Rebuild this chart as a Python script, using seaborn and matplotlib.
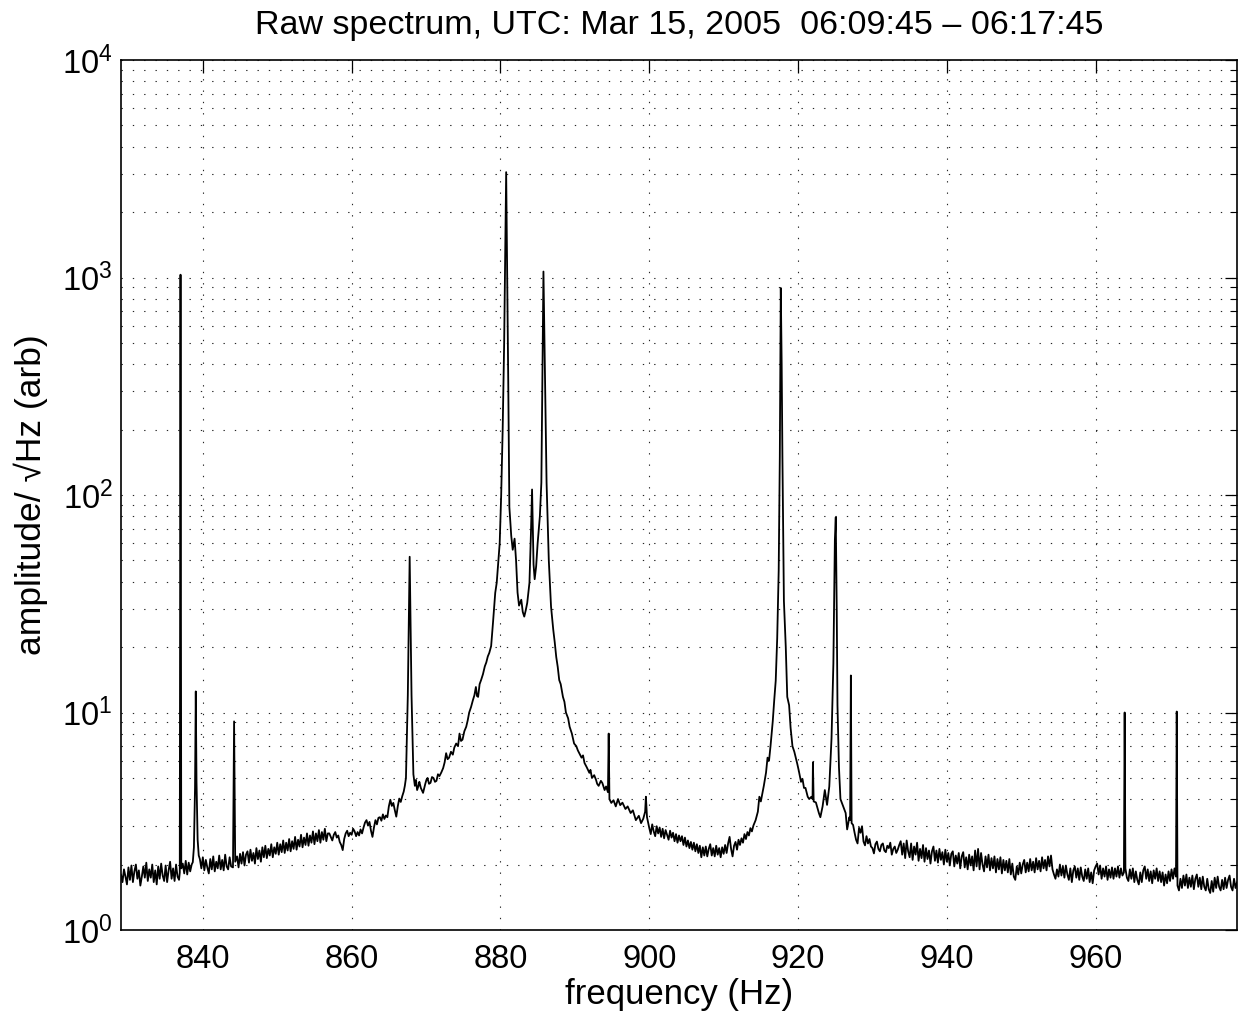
import numpy as np
import pandas as pd
import seaborn as sns
import matplotlib
matplotlib.use("Agg")
import matplotlib.pyplot as plt
from matplotlib.ticker import LogLocator, NullFormatter, FixedLocator

# ---------------- data ----------------
freq_a = [829.0, 829.2, 829.4, 829.6, 829.8, 830.0, 830.2, 830.4, 830.6, 830.8,
          831.0, 831.2, 831.4, 831.6, 831.8, 832.0, 832.2, 832.4, 832.6, 832.8,
          833.0, 833.2, 833.4, 833.6, 833.8, 834.0, 834.2, 834.4, 834.6, 834.8,
          835.0, 835.2, 835.4, 835.6, 835.8, 836.0, 836.2, 836.4, 836.6, 836.8,
          836.9, 837.0, 837.1, 837.3, 837.5, 837.7, 837.9, 838.1, 838.3, 838.5,
          838.65, 838.8, 838.95, 839.05, 839.15, 839.3, 839.45, 839.6, 839.8, 840.0,
          840.2, 840.4, 840.6, 840.8, 841.0, 841.2, 841.4, 841.6, 841.8, 842.0,
          842.2, 842.4, 842.6, 842.8, 843.0, 843.2, 843.4, 843.6, 843.8, 844.05,
          844.2, 844.35, 844.6, 844.8, 845.0, 845.2, 845.4, 845.6, 845.8, 846.0,
          846.2, 846.4, 846.6, 846.8, 847.0, 847.2, 847.4, 847.6, 847.8, 848.0,
          848.2, 848.4, 848.6, 848.8, 849.0, 849.2, 849.4, 849.6, 849.8, 850.0,
          850.2, 850.4, 850.6, 850.8, 851.0, 851.2, 851.4, 851.6, 851.8, 852.0,
          852.2, 852.4, 852.6, 852.8, 853.0, 853.2, 853.4, 853.6, 853.8, 854.0,
          854.2, 854.4, 854.6, 854.8, 855.0, 855.2, 855.4, 855.6, 855.8, 856.0,
          856.2, 856.4, 856.6, 856.8]
amp_a = [1.80, 1.66, 1.90, 1.76, 1.62, 1.94, 1.70, 1.98, 1.66, 1.86,
         2.00, 1.72, 1.88, 1.60, 1.76, 1.96, 1.74, 2.04, 1.68, 1.90,
         1.74, 2.00, 1.66, 1.88, 1.62, 1.96, 1.72, 2.02, 1.78, 1.68,
         1.98, 1.66, 1.88, 2.06, 1.72, 1.92, 1.68, 2.00, 1.76, 1.70,
         1.84, 1030.0, 1.92, 2.02, 1.82, 2.08, 1.80, 2.04, 1.86, 2.00,
         2.05, 2.40, 4.50, 12.5, 4.80, 2.60, 2.20, 2.12, 1.92, 2.16,
         1.88, 2.10, 1.94, 1.82, 2.12, 1.90, 2.18, 1.86, 2.06, 1.92,
         2.20, 1.90, 2.10, 1.88, 2.22, 1.96, 1.90, 2.16, 1.96, 1.94,
         9.1, 2.06, 2.18, 1.94, 2.24, 2.02, 2.28, 1.98, 2.22, 2.30,
         2.04, 2.34, 2.08, 2.26, 2.02, 2.38, 2.12, 2.32, 2.06, 2.40,
         2.16, 2.44, 2.14, 2.36, 2.20, 2.48, 2.16, 2.40, 2.24, 2.52,
         2.22, 2.48, 2.28, 2.58, 2.26, 2.52, 2.32, 2.62, 2.30, 2.56,
         2.36, 2.68, 2.34, 2.60, 2.42, 2.74, 2.40, 2.66, 2.46, 2.78,
         2.44, 2.72, 2.52, 2.84, 2.48, 2.78, 2.56, 2.88, 2.52, 2.82,
         2.60, 2.92, 2.56, 2.78]

freq_b = [857.0, 857.2, 857.4, 857.6, 857.8, 858.0, 858.2, 858.4, 858.6, 858.8,
          859.0, 859.2, 859.4, 859.6, 859.8, 860.0, 860.2, 860.4, 860.6, 860.8,
          861.0, 861.2, 861.4, 861.6, 861.8, 862.0, 862.2, 862.4, 862.6, 862.8,
          863.0, 863.2, 863.4, 863.6, 863.8, 864.0, 864.2, 864.4, 864.6, 864.8,
          865.0, 865.2, 865.4, 865.6, 865.8, 866.0, 866.2, 866.4, 866.6, 866.8,
          867.0, 867.15, 867.3, 867.55, 867.7, 867.8, 867.9, 868.05, 868.3, 868.5,
          868.65, 868.8, 869.0, 869.1, 869.3, 869.6, 869.8, 869.9, 870.05, 870.2,
          870.4, 870.6, 870.8, 871.0, 871.2, 871.4, 871.6, 871.8, 872.05, 872.3,
          872.5, 872.7, 872.9, 873.1, 873.35, 873.6, 873.8, 874.05, 874.3, 874.5,
          874.7, 874.9, 875.15, 875.4, 875.6, 875.8, 876.05, 876.3, 876.5, 876.7,
          876.85, 877.0, 877.2, 877.4, 877.65, 877.9, 878.1, 878.3, 878.5, 878.75,
          879.0, 879.3, 879.5, 879.9, 880.1, 880.3, 880.5, 880.65, 880.77, 880.9,
          881.05, 881.2, 881.45, 881.65, 881.9, 882.1, 882.3, 882.5, 882.8, 883.0,
          883.2, 883.4, 883.6, 883.9, 884.1, 884.25, 884.45, 884.6, 884.8, 885.0,
          885.3, 885.5, 885.65, 885.78, 885.95, 886.2, 886.5, 886.8, 887.1, 887.3,
          887.5, 887.7, 887.9, 888.1, 888.4, 888.6, 888.8, 889.1, 889.3, 889.6,
          889.9, 890.2, 890.4, 890.6, 890.9, 891.1, 891.3, 891.6, 891.95, 892.1,
          892.3, 892.6, 892.85, 893.0, 893.2, 893.5, 893.7, 894.0, 894.2, 894.45,
          894.55, 894.65, 894.9, 895.2, 895.5, 895.8, 896.1, 896.4, 896.8, 897.1,
          897.5, 897.8, 898.2, 898.6, 898.9, 899.2, 899.45, 899.55, 899.7]
amp_b = [2.78, 2.68, 2.58, 2.74, 2.82, 2.66, 2.72, 2.54, 2.46, 2.33,
         2.62, 2.78, 2.86, 2.70, 2.80, 2.74, 2.92, 2.84, 2.70, 2.82,
         2.72, 2.90, 2.78, 2.96, 3.12, 3.20, 3.02, 3.14, 2.86, 2.68,
         2.96, 3.20, 3.06, 3.28, 3.30, 3.18, 3.40, 3.24, 3.36, 3.30,
         3.70, 3.97, 3.72, 3.84, 3.56, 3.32, 3.70, 4.02, 3.88, 4.12,
         4.33, 4.60, 5.00, 12.0, 30.0, 52.0, 28.0, 12.0, 5.20, 4.60,
         4.90, 4.40, 4.62, 4.80, 4.50, 4.27, 4.55, 4.70, 4.90, 5.00,
         4.70, 4.75, 5.05, 5.00, 4.80, 4.85, 5.20, 5.10, 5.30, 5.55,
         5.90, 6.50, 6.10, 6.20, 6.60, 6.40, 6.90, 7.20, 7.00, 8.00,
         7.40, 7.50, 8.20, 8.60, 9.20, 10.0, 10.6, 11.4, 12.0, 13.1,
         11.9, 11.8, 13.5, 14.1, 15.0, 16.3, 17.0, 18.1, 18.8, 20.2,
         25.9, 35.5, 39.5, 60.0, 100.0, 200.0, 500.0, 1300.0, 3050.0, 1100.0,
         330.0, 88.0, 65.0, 56.0, 63.0, 50.0, 35.6, 31.0, 33.0, 29.0,
         27.6, 29.5, 31.9, 39.5, 67.0, 106.0, 48.0, 41.0, 47.0, 60.0,
         80.0, 114.0, 380.0, 1065.0, 430.0, 114.0, 50.0, 30.7, 24.0, 21.0,
         18.0, 16.2, 14.1, 13.5, 11.8, 11.2, 10.0, 9.4, 8.6, 8.0,
         7.2, 7.0, 6.7, 6.5, 6.2, 6.35, 5.86, 5.6, 5.28, 5.45,
         5.0, 5.15, 4.9, 4.7, 4.6, 4.85, 4.74, 4.4, 4.57, 4.3,
         8.0, 4.0, 3.84, 3.95, 3.7, 4.0, 3.75, 3.85, 3.6, 3.7,
         3.45, 3.55, 3.2, 3.35, 3.1, 3.25, 3.5, 4.1, 3.3]

freq_c = [900.0, 900.2, 900.4, 900.6, 900.8, 901.0, 901.2, 901.4, 901.6, 901.8,
          902.0, 902.2, 902.4, 902.6, 902.8, 903.0, 903.2, 903.4, 903.6, 903.8,
          904.0, 904.2, 904.4, 904.6, 904.8, 905.0, 905.2, 905.4, 905.6, 905.8,
          906.0, 906.2, 906.4, 906.6, 906.8, 907.0, 907.2, 907.4, 907.6, 907.8,
          908.0, 908.2, 908.4, 908.6, 908.8, 909.0, 909.2, 909.4, 909.6, 909.8,
          910.0, 910.2, 910.4, 910.6, 910.8, 911.0, 911.2, 911.4, 911.6, 911.8,
          912.0, 912.2, 912.4, 912.6, 912.8, 913.0, 913.2, 913.4, 913.6, 913.8,
          914.0, 914.3, 914.6, 914.8, 915.0, 915.4, 915.7, 915.9, 916.1, 916.3,
          916.6, 916.8, 917.0, 917.2, 917.4, 917.55, 917.68, 917.8, 917.9, 918.1,
          918.35, 918.55, 918.8, 919.0, 919.25, 919.5, 919.9, 920.1, 920.4, 920.6,
          920.8, 921.0, 921.3, 921.5, 921.8, 921.95, 922.0, 922.1, 922.4, 922.8,
          923.0, 923.3, 923.6, 923.9, 924.2, 924.5, 924.75, 924.95, 925.07, 925.2,
          925.3, 925.5, 925.7, 925.95, 926.2, 926.4, 926.6, 926.9, 927.0, 927.1,
          927.2, 927.4, 927.6, 927.8, 928.0, 928.2, 928.4, 928.6, 928.8, 929.0,
          929.2, 929.4, 929.6, 929.8, 930.0, 930.2, 930.4, 930.6, 930.8, 931.0,
          931.2, 931.4, 931.6, 931.8, 932.0, 932.2, 932.4, 932.6, 932.8, 933.0,
          933.2, 933.4, 933.6]
amp_c = [2.95, 2.76, 3.06, 2.84, 2.70, 3.00, 2.78, 2.96, 2.68, 2.92,
         2.64, 2.88, 2.74, 2.60, 2.86, 2.66, 2.80, 2.56, 2.76, 2.52,
         2.72, 2.56, 2.70, 2.46, 2.66, 2.42, 2.58, 2.38, 2.54, 2.34,
         2.52, 2.30, 2.48, 2.26, 2.44, 2.16, 2.40, 2.20, 2.42, 2.18,
         2.36, 2.48, 2.20, 2.38, 2.18, 2.44, 2.22, 2.38, 2.16, 2.40,
         2.24, 2.46, 2.26, 2.50, 2.68, 2.36, 2.18, 2.44, 2.54, 2.34,
         2.60, 2.46, 2.64, 2.52, 2.76, 2.62, 2.82, 2.72, 2.94, 2.84,
         3.02, 3.20, 3.50, 4.10, 3.90, 4.60, 5.30, 6.20, 6.00, 7.00,
         9.10, 11.4, 14.0, 22.0, 45.0, 150.0, 895.0, 400.0, 150.0, 32.6,
         20.0, 11.8, 10.8, 8.5, 7.0, 6.6, 5.8, 5.4, 4.8, 4.95,
         4.5, 4.5, 4.1, 4.0, 4.1, 4.0, 5.9, 3.9, 3.86, 3.45,
         3.3, 3.7, 4.4, 3.76, 4.57, 7.6, 16.8, 62.0, 79.0, 30.0,
         10.8, 5.6, 4.0, 3.8, 3.6, 3.45, 2.9, 3.3, 3.2, 14.8,
         3.1, 3.04, 2.80, 2.60, 2.50, 2.95, 2.80, 3.00, 2.55, 2.45,
         2.70, 2.50, 2.62, 2.42, 2.38, 2.25, 2.48, 2.55, 2.36, 2.30,
         2.46, 2.50, 2.32, 2.28, 2.44, 2.38, 2.52, 2.22, 2.36, 2.42,
         2.26, 2.34, 2.46]

freq_d = [933.8, 934.0, 934.2, 934.4, 934.6, 934.8, 935.0, 935.2, 935.4, 935.6,
          935.8, 936.0, 936.2, 936.4, 936.6, 936.8, 937.0, 937.2, 937.4, 937.6,
          937.8, 938.0, 938.2, 938.4, 938.6, 938.8, 939.0, 939.2, 939.4, 939.6,
          939.8, 940.0, 940.2, 940.4, 940.6, 940.8, 941.0, 941.2, 941.4, 941.6,
          941.8, 942.0, 942.2, 942.4, 942.6, 942.8, 943.0, 943.2, 943.4, 943.6,
          943.8, 944.0, 944.2, 944.4, 944.6, 944.8, 945.0, 945.2, 945.4, 945.6,
          945.8, 946.0, 946.2, 946.4, 946.6, 946.8, 947.0, 947.2, 947.4, 947.6,
          947.8, 948.0, 948.2, 948.4, 948.6, 948.8, 949.0, 949.2, 949.4, 949.6,
          949.8, 950.0, 950.2, 950.4, 950.6, 950.8, 951.0, 951.2, 951.4, 951.6,
          951.8, 952.0, 952.2, 952.4, 952.6, 952.8, 953.0, 953.2, 953.4, 953.6,
          953.8, 954.0, 954.2, 954.4, 954.6, 954.8, 955.0, 955.2, 955.4, 955.6,
          955.8, 956.0, 956.2, 956.4, 956.6, 956.8, 957.0, 957.2, 957.4, 957.6,
          957.8, 958.0, 958.2, 958.4, 958.6, 958.8, 959.0, 959.2, 959.4, 959.6,
          959.8, 960.0, 960.2, 960.4, 960.6, 960.8, 961.0, 961.2, 961.4, 961.6,
          961.8, 962.0, 962.2, 962.4, 962.6, 962.8, 963.0, 963.2, 963.4, 963.6,
          963.8, 963.9, 964.0, 964.2, 964.4, 964.6, 964.8, 965.0, 965.2, 965.4,
          965.6, 965.8, 966.0, 966.2, 966.4, 966.6, 966.8, 967.0, 967.2, 967.4,
          967.6, 967.8, 968.0, 968.2, 968.4, 968.6, 968.8, 969.0, 969.2, 969.4,
          969.6, 969.8, 970.0, 970.2, 970.4, 970.6, 970.8, 970.9, 971.0, 971.2,
          971.4, 971.6, 971.8, 972.0, 972.2, 972.4, 972.6, 972.8, 973.0, 973.2,
          973.4, 973.6, 973.8, 974.0, 974.2, 974.4, 974.6, 974.8, 975.0, 975.2,
          975.4, 975.6, 975.8, 976.0, 976.2, 976.4, 976.6, 976.8, 977.0, 977.2,
          977.4, 977.6, 977.8, 978.0, 978.2, 978.4, 978.6, 978.8, 979.0]
amp_d = [2.56, 2.22, 2.50, 2.14, 2.58, 2.30, 2.16, 2.50, 2.10, 2.42,
         2.22, 2.52, 2.08, 2.36, 2.14, 2.46, 2.06, 2.38, 2.12, 2.32,
         2.02, 2.30, 2.42, 2.08, 2.32, 2.04, 2.36, 2.10, 2.28, 2.00,
         2.34, 2.06, 2.26, 1.98, 2.24, 2.30, 1.96, 2.20, 2.02, 2.26,
         1.92, 2.18, 2.28, 1.94, 2.16, 1.90, 2.22, 1.98, 2.18, 1.88,
         2.32, 1.96, 2.36, 1.90, 2.26, 2.00, 1.86, 2.18, 1.94, 2.22,
         1.88, 2.14, 1.92, 2.18, 1.84, 2.12, 1.90, 2.16, 1.82, 2.10,
         1.88, 2.08, 1.84, 2.12, 1.80, 2.02, 1.76, 1.70, 1.96, 1.80,
         2.04, 1.82, 2.00, 2.10, 1.84, 2.04, 1.86, 2.12, 1.88, 2.06,
         1.84, 2.14, 1.90, 2.08, 1.86, 2.16, 1.92, 2.10, 1.88, 2.18,
         1.96, 2.20, 1.90, 1.80, 1.72, 1.90, 1.76, 2.00, 1.78, 1.96,
         1.74, 1.98, 1.80, 1.70, 1.92, 1.66, 1.88, 1.96, 1.74, 1.92,
         1.70, 1.94, 1.76, 1.68, 1.90, 1.72, 1.92, 1.66, 1.84, 1.64,
         1.88, 1.96, 2.02, 1.80, 1.98, 1.72, 1.92, 1.76, 1.96, 1.70,
         1.90, 1.74, 1.94, 1.72, 1.92, 1.76, 1.96, 1.74, 1.92, 1.78,
         1.84, 10.0, 1.92, 1.74, 1.68, 1.90, 1.72, 1.92, 1.66, 1.86,
         1.70, 1.62, 1.84, 1.66, 1.88, 1.96, 1.72, 1.90, 1.68, 1.86,
         1.64, 1.88, 1.72, 1.92, 1.68, 1.86, 1.66, 1.84, 1.60, 1.80,
         1.64, 1.86, 1.68, 1.90, 1.72, 1.92, 1.76, 10.1, 1.60, 1.52,
         1.72, 1.56, 1.78, 1.60, 1.80, 1.56, 1.74, 1.58, 1.78, 1.54,
         1.72, 1.80, 1.58, 1.74, 1.54, 1.76, 1.58, 1.52, 1.72, 1.54,
         1.48, 1.68, 1.50, 1.74, 1.56, 1.76, 1.58, 1.52, 1.70, 1.54,
         1.74, 1.56, 1.70, 1.78, 1.58, 1.52, 1.72, 1.56, 1.66]

x_ticks = [840, 860, 880, 900, 920, 940, 960]
x_limits = (829, 979)
y_limits = (1, 1e4)

title_text = "Raw spectrum, UTC: Mar 15, 2005  06:09:45 \u2013 06:17:45"
x_label = "frequency (Hz)"
y_label = "amplitude/ \u221aHz (arb)"

df = pd.DataFrame({
    "freq": freq_a + freq_b + freq_c + freq_d,
    "amp": amp_a + amp_b + amp_c + amp_d,
})

# ---------------- style ----------------
sns.set_theme(style="white")
plt.rcParams["font.family"] = ["Liberation Sans", "DejaVu Sans"]
plt.rcParams["mathtext.fontset"] = "custom"
plt.rcParams["mathtext.rm"] = "Liberation Sans"
plt.rcParams["text.color"] = "black"
plt.rcParams["axes.labelcolor"] = "black"
plt.rcParams["xtick.color"] = "black"
plt.rcParams["ytick.color"] = "black"

fig = plt.figure(figsize=(12.4, 10.17), dpi=100)
ax = fig.add_axes([121 / 1240, 1 - 930 / 1017, (1237 - 121) / 1240, (930 - 60) / 1017])

sns.lineplot(data=df, x="freq", y="amp", ax=ax, color="black", linewidth=1.3,
             estimator=None, sort=True)

ax.set_yscale("log")
ax.set_xlim(*x_limits)
ax.set_ylim(*y_limits)
ax.xaxis.set_major_locator(FixedLocator(x_ticks))
ax.yaxis.set_major_locator(LogLocator(base=10, numticks=10))
ax.yaxis.set_minor_locator(LogLocator(base=10, subs=np.arange(2, 10), numticks=50))
ax.yaxis.set_minor_formatter(NullFormatter())

grid_style = dict(color="black", linestyle=(0, (1.2, 9)), linewidth=0.8, alpha=0.85)
ax.xaxis.grid(True, which="major", **grid_style)
ax.yaxis.grid(True, which="both", **grid_style)
ax.set_axisbelow(True)

ax.tick_params(which="both", direction="in", top=True, right=True, colors="black")
ax.tick_params(which="major", length=9, width=0.9, labelsize=23.5)
ax.tick_params(axis="x", which="major", pad=10)
ax.tick_params(axis="y", which="major", pad=6)
ax.tick_params(which="minor", length=5, width=0.8)

for sp in ax.spines.values():
    sp.set_color("black")
    sp.set_linewidth(1.2)

ax.set_xlabel(x_label, fontsize=25, labelpad=2)
ax.set_ylabel(y_label, fontsize=25.5, labelpad=10)
ax.set_title(title_text, fontsize=24.5, pad=19)

fig.savefig("out.png", dpi=100)
